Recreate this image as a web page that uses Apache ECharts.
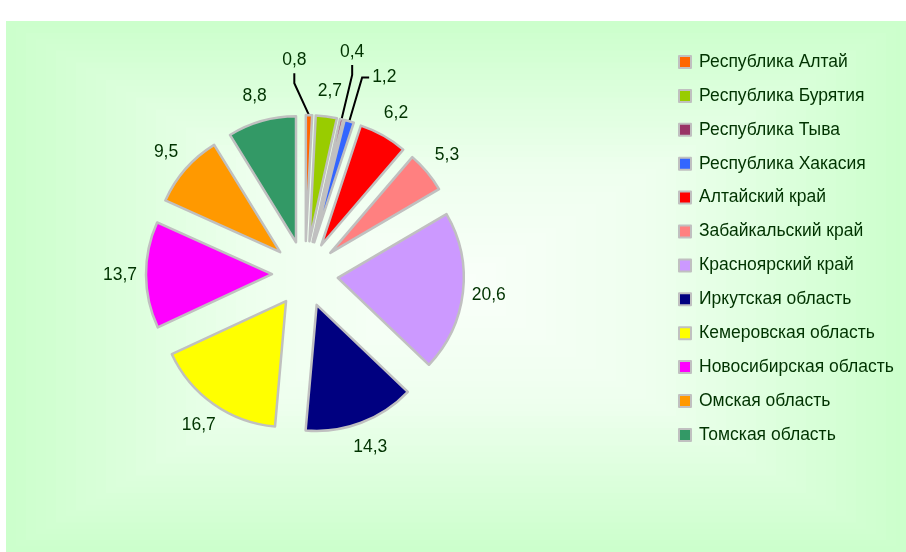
<!DOCTYPE html>
<html>
<head>
<meta charset="utf-8">
<script src="https://cdn.jsdelivr.net/npm/echarts@6/dist/echarts.min.js"></script>
<style>
html, body { margin: 0; padding: 0; background: #fff; }
#piechart { width: 906px; height: 552px; }
</style>
</head>
<body>
<div id="piechart"></div>
<script>
// доли субъектов, %
var regions = ['Республика Алтай', 'Республика Бурятия', 'Республика Тыва', 'Республика Хакасия',
    'Алтайский край', 'Забайкальский край', 'Красноярский край', 'Иркутская область',
    'Кемеровская область', 'Новосибирская область', 'Омская область', 'Томская область'];
var shares = [0.8, 2.7, 0.4, 1.2, 6.2, 5.3, 20.6, 14.3, 16.7, 13.7, 9.5, 8.8];
var colors = ['#ff6600', '#99cc00', '#993366', '#3366ff', '#ff0000', '#ff8080',
    '#cc99ff', '#000080', '#ffff00', '#ff00ff', '#ff9900', '#339966'];

var piechart = echarts.init(document.getElementById('piechart'));

var cx = 305, cy = 274, R = 126, explode = 33;
var labelR = 185;
// подписи маленьких секторов вынесены с выносками: [сдвиг угла, радиус]
var leader = { 0: [-4.3, 214], 2: [-1.3, 227], 3: [5.8, 212] };
var font = 'Liberation Sans, Arial, sans-serif';

var total = shares.reduce(function (a, b) { return a + b; }, 0);
var cum = [];
shares.reduce(function (s, v, i) { cum[i] = s; return s + v; }, 0);

function hex(c) { return [parseInt(c.substr(1, 2), 16), parseInt(c.substr(3, 2), 16), parseInt(c.substr(5, 2), 16)]; }
function mix(a, b, t) {
    var x = hex(a), y = hex(b);
    return 'rgb(' + x.map(function (v, k) { return Math.round(v + (y[k] - v) * t); }).join(',') + ')';
}

// фон: прямоугольный градиент "из центра"
var box = { x: 6, y: 21, w: 900, h: 531 };
var bg = [];
var steps = 45;
for (var k = 0; k < steps; k++) {
    var s = 1 - k / steps; // 1 = край
    var col = s > 0.45 ? mix('#ccffcc', '#eeffee', (1 - s) / 0.55) : mix('#eeffee', '#fafffa', (0.45 - s) / 0.45);
    bg.push({
        type: 'rect', silent: true, z: -10,
        shape: { x: box.x + box.w / 2 * (1 - s), y: box.y + box.h / 2 * (1 - s), width: box.w * s, height: box.h * s },
        style: { fill: col }
    });
}

function midDir(i, shiftDeg) {
    var a = (cum[i] + shares[i] / 2) / total * 2 * Math.PI + (shiftDeg || 0) * Math.PI / 180;
    return [Math.sin(a), -Math.cos(a)];
}

function labelLayout(p) {
    var i = p.seriesIndex;
    var w = p.labelRect.width, h = p.labelRect.height;
    var ld = leader[i];
    var d = midDir(i, ld ? ld[0] : 0);
    var r = ld ? ld[1] : labelR;
    var lx = cx + r * d[0], ly = cy + r * d[1];
    var res = { x: lx, y: ly, align: 'center', verticalAlign: 'middle' };
    if (ld) {
        var e = midDir(i);
        var ex = cx + (R + explode) * e[0], ey = cy + (R + explode) * e[1];
        if (lx - ex > w / 2) {
            res.labelLinePoints = [[ex, ey], [lx - w / 2 - 10, ly], [lx - w / 2 - 3, ly]];
        } else {
            res.labelLinePoints = [[ex, ey], [lx, ly + h / 2 + 14], [lx, ly + h / 2 + 4]];
        }
    }
    return res;
}

// каждый сектор - отдельная серия, сдвинутая от центра (разрезанная диаграмма)
var series = regions.map(function (n, i) {
    var d = midDir(i);
    return {
        name: n,
        type: 'pie',
        center: [cx + explode * d[0], cy + explode * d[1]],
        radius: R,
        startAngle: 90 - cum[i] / total * 360,
        endAngle: 90 - (cum[i] + shares[i]) / total * 360,
        clockwise: true,
        avoidLabelOverlap: false,
        data: [{ name: n, value: shares[i] }],
        itemStyle: { color: colors[i], borderColor: '#c0c0c0', borderWidth: 2.5 },
        emphasis: { disabled: true },
        label: {
            show: true,
            position: 'outside',
            fontFamily: font,
            fontSize: 17.5,
            color: '#003300',
            formatter: function (p) { return p.value.toFixed(1).replace('.', ','); }
        },
        labelLine: { show: !!leader[i], lineStyle: { color: '#000000', width: 2 } },
        labelLayout: labelLayout
    };
});

var option = {
    backgroundColor: '#ffffff',
    animation: false,
    graphic: { elements: bg },
    legend: {
        orient: 'vertical',
        left: 673,
        top: 48,
        itemWidth: 12,
        itemHeight: 12,
        itemGap: 15.9,
        icon: 'rect',
        itemStyle: { borderColor: '#c0c0c0', borderWidth: 2 },
        textStyle: { fontFamily: font, fontSize: 17.5, color: '#003300', padding: [0, 0, 0, 3] },
        data: regions
    },
    series: series
};

piechart.setOption(option);
</script>
</body>
</html>
